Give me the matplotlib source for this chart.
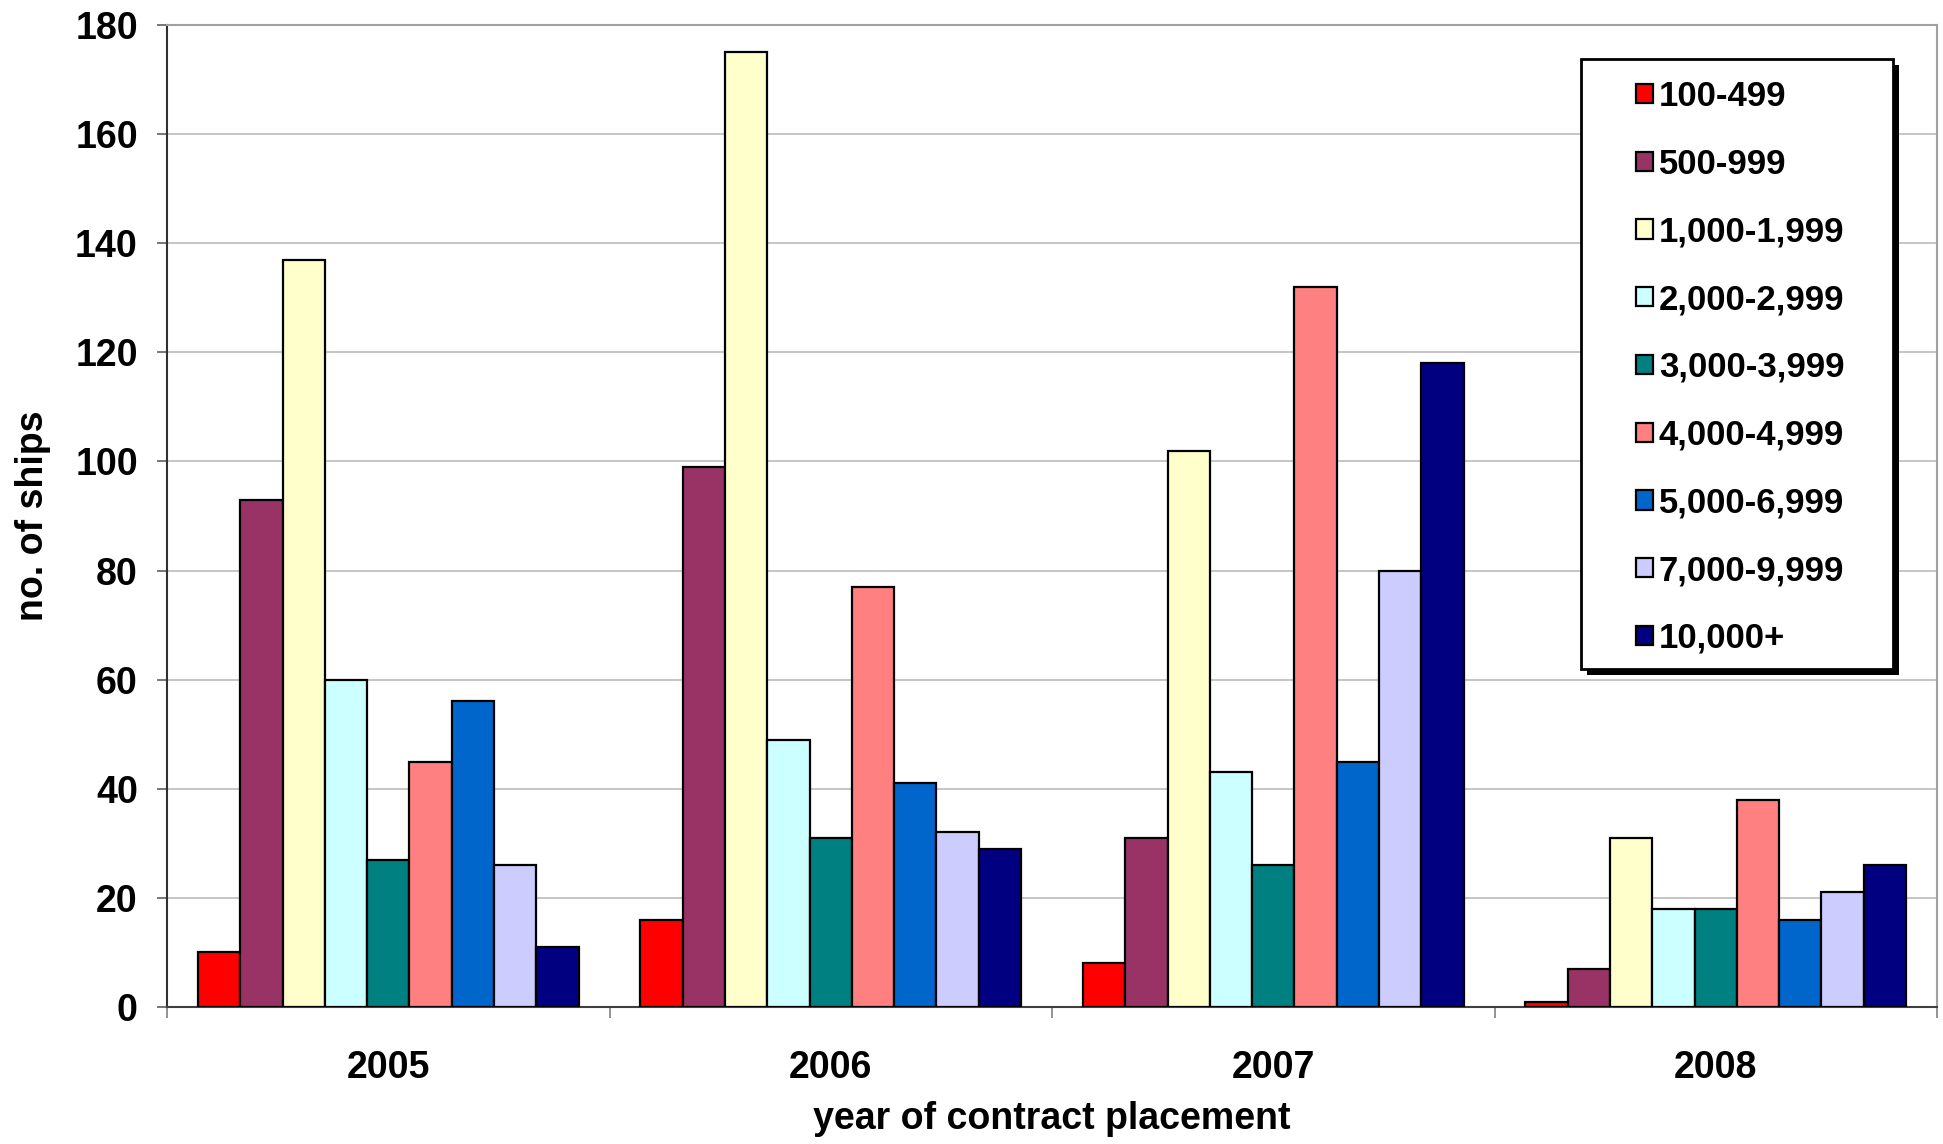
import matplotlib
matplotlib.use("Agg")
import matplotlib.pyplot as plt
import numpy as np
from matplotlib.patches import Rectangle

years = ["2005", "2006", "2007", "2008"]
size_bands = ["100-499", "500-999", "1,000-1,999", "2,000-2,999", "3,000-3,999",
              "4,000-4,999", "5,000-6,999", "7,000-9,999", "10,000+"]
band_colors = ["#FF0000", "#993366", "#FFFFCC", "#CCFFFF", "#008080",
               "#FF8080", "#0066CC", "#CCCCFF", "#000080"]

# ships ordered per size band, one value per year
ships_100_499 = [10, 16, 8, 1]
ships_500_999 = [93, 99, 31, 7]
ships_1000_1999 = [137, 175, 102, 31]
ships_2000_2999 = [60, 49, 43, 18]
ships_3000_3999 = [27, 31, 26, 18]
ships_4000_4999 = [45, 77, 132, 38]
ships_5000_6999 = [56, 41, 45, 16]
ships_7000_9999 = [26, 32, 80, 21]
ships_10000_plus = [11, 29, 118, 26]

series = [ships_100_499, ships_500_999, ships_1000_1999, ships_2000_2999,
          ships_3000_3999, ships_4000_4999, ships_5000_6999, ships_7000_9999,
          ships_10000_plus]

y_ticks = [0, 20, 40, 60, 80, 100, 120, 140, 160, 180]

plt.rcParams["font.family"] = ["Liberation Sans", "DejaVu Sans"]
plt.rcParams["font.weight"] = "bold"

W, H = 1943, 1144
fig = plt.figure(figsize=(W / 100, H / 100), dpi=100)
ax = fig.add_axes([167 / W, 1 - 1007 / H, (1937 - 167) / W, (1007 - 25) / H])

n = len(series)
group_span = 0.86
bw = group_span / n
x = np.arange(len(years))
for i, (vals, lab, col) in enumerate(zip(series, size_bands, band_colors)):
    offs = -group_span / 2 + bw * (i + 0.5)
    ax.bar(x + offs, vals, width=bw, color=col, edgecolor="black",
           linewidth=1.6, label=lab, zorder=3)

ax.set_xlim(-0.5, len(years) - 0.5)
ax.set_ylim(0, 180)
ax.set_yticks(y_ticks)
ax.set_yticklabels([str(v) for v in y_ticks], fontsize=27, fontweight="bold")
ax.yaxis.grid(True, color="#C0C0C0", linewidth=1.3, zorder=0)
ax.set_axisbelow(True)

ax.set_xticks(x)
ax.set_xticklabels(years, fontsize=27, fontweight="bold")
ax.set_xticks(np.arange(len(years) + 1) - 0.5, minor=True)
ax.tick_params(axis="x", which="major", length=0, pad=31)
ax.tick_params(axis="x", which="minor", length=8, width=1.2, color="#808080",
               direction="out")
ax.tick_params(axis="y", which="major", length=7, width=1.2, color="#606060",
               direction="out", pad=14)

for side in ("top", "right"):
    ax.spines[side].set_color("#A0A0A0")
    ax.spines[side].set_linewidth(1.5)
ax.spines["left"].set_color("#303030")
ax.spines["left"].set_linewidth(1.5)
ax.spines["bottom"].set_color("#404040")
ax.spines["bottom"].set_linewidth(1.5)

ax.set_ylabel("no. of ships", fontsize=27, fontweight="bold", labelpad=17)
ax.set_xlabel("year of contract placement", fontsize=27, fontweight="bold",
              labelpad=11)

# legend frame with a solid drop shadow
lx0, lx1, ly0, ly1 = 1581, 1893, 59, 669
shadow = Rectangle((lx0 + 6, H - ly1 - 6), lx1 - lx0, ly1 - ly0,
                   transform=None, facecolor="black", edgecolor="none",
                   zorder=10)
frame = Rectangle((lx0, H - ly1), lx1 - lx0, ly1 - ly0, transform=None,
                  facecolor="white", edgecolor="black", linewidth=2.0,
                  zorder=11)
fig.patches.extend([shadow, frame])

leg = fig.legend(loc="upper left", bbox_to_anchor=(1636 / W, 1 - 80 / H),
                 frameon=False, borderpad=0, borderaxespad=0,
                 handlelength=0.48, handleheight=0.48, handletextpad=0.18,
                 labelspacing=1.0, prop={"weight": "bold", "size": 25})
leg.set_zorder(12)

fig.savefig("out.png", dpi=100)
